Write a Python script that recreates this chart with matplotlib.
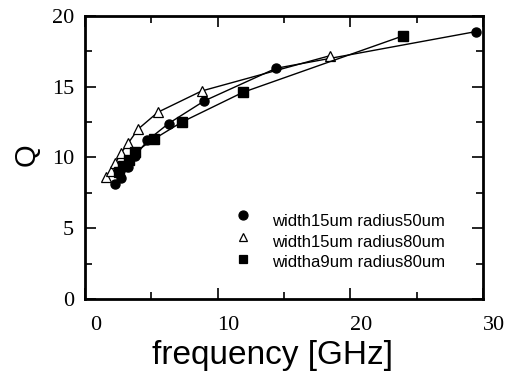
"""Q versus frequency for three ring geometries."""
import matplotlib
matplotlib.use("Agg")
import matplotlib.pyplot as plt
import matplotlib.transforms as mtrans
from matplotlib.ticker import MultipleLocator

# width15um radius50um
f_r50 = [2.3, 2.7, 3.25, 3.8, 4.7, 6.3, 9.0, 14.4, 29.5]
q_r50 = [8.1, 8.55, 9.3, 10.1, 11.2, 12.4, 14.0, 16.3, 18.9]
# width15um radius80um
f_r80 = [1.6, 1.95, 2.3, 2.7, 3.25, 4.0, 5.5, 8.8, 18.5]
q_r80 = [8.6, 9.05, 9.6, 10.3, 11.0, 12.0, 13.2, 14.7, 17.2]
# widtha9um radius80um
f_w9 = [2.6, 2.9, 3.3, 3.8, 5.2, 7.3, 11.9, 24.0]
q_w9 = [9.0, 9.4, 9.8, 10.4, 11.3, 12.5, 14.6, 18.6]

labels = ["width15um radius50um", "width15um radius80um", "widtha9um radius80um"]

fig = plt.figure(figsize=(5.17, 3.80), dpi=100)
ax = fig.add_axes([0.1644, 0.2132, 0.7696, 0.7448])

ax.plot(f_r50, q_r50, color="black", lw=1, marker="o", ms=6.5,
        mfc="black", mec="black")
ax.plot(f_r80, q_r80, color="black", lw=1, marker="^", ms=7.5,
        mfc="white", mec="black", mew=0.9)
ax.plot(f_w9, q_w9, color="black", lw=1, marker="s", ms=6.5,
        mfc="black", mec="black")

ax.set_xlim(0, 30)
ax.set_ylim(0, 20)
ax.xaxis.set_major_locator(MultipleLocator(10))
ax.xaxis.set_minor_locator(MultipleLocator(5))
ax.yaxis.set_major_locator(MultipleLocator(5))
ax.yaxis.set_minor_locator(MultipleLocator(2.5))
ax.tick_params(which="both", direction="in", top=True, right=True, width=1.2)
ax.tick_params(which="major", length=8)
ax.tick_params(which="minor", length=5)
ax.tick_params(axis="x", which="major", pad=12)
ax.tick_params(axis="y", which="major", pad=8)
for sp in ax.spines.values():
    sp.set_linewidth(2)

for lab in ax.get_xticklabels() + ax.get_yticklabels():
    lab.set_fontfamily("Liberation Serif")
    lab.set_fontsize(16)
shift = mtrans.ScaledTranslation(0.11, 0, fig.dpi_scale_trans)
for lab in ax.get_xticklabels():
    lab.set_transform(lab.get_transform() + shift)

ax.set_xlabel("frequency [GHz]", fontfamily="Liberation Sans", fontsize=24)
ax.xaxis.set_label_coords(0.472, -0.198)
ax.xaxis.label.set_va("center")
ax.set_ylabel("Q", fontfamily="Liberation Sans", fontsize=21)
ax.yaxis.set_label_coords(-0.146, 0.509)
ax.yaxis.label.set_va("center")

# legend markers and texts (hand placed, like the original figure)
mark_y = [5.95, 4.4, 2.8]
text_y = [5.5, 4.0, 2.55]
leg_m = [dict(marker="o", mfc="black", ms=6.5),
         dict(marker="^", mfc="white", ms=6),
         dict(marker="s", mfc="black", ms=6)]
for my, ty, m, t in zip(mark_y, text_y, leg_m, labels):
    ax.plot([11.95], [my], ls="none", mec="black", mew=0.9, **m)
    ax.text(14.1, ty, t, fontfamily="Liberation Sans", fontsize=12,
            va="center", ha="left")

fig.savefig("out.png", dpi=100)
